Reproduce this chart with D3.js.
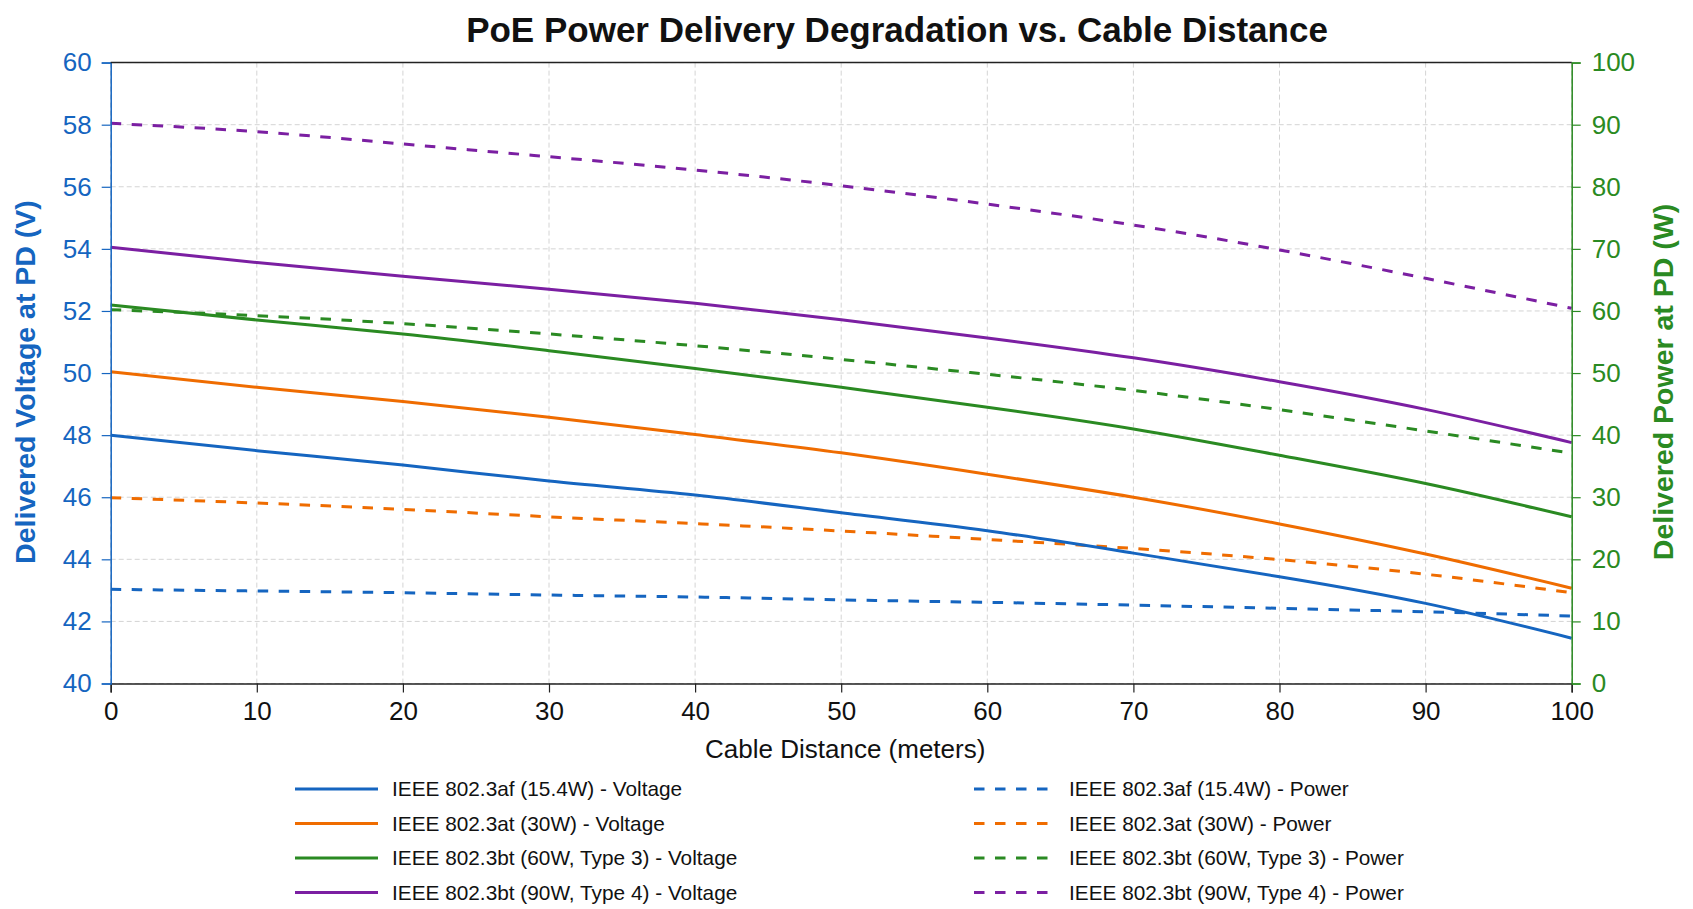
<!DOCTYPE html>
<html>
<head>
<meta charset="utf-8">
<script src="https://cdn.jsdelivr.net/npm/d3@7"></script>
<style>
  body { margin: 0; background: #fff; }
  svg text { font-family: "Liberation Sans", Arial, sans-serif; }
</style>
</head>
<body>
<div id="chart"></div>
<script>
// cable distance in meters
const distances = [0, 10, 20, 30, 40, 50, 60, 70, 80, 90, 100];

// delivered voltage at PD (V)
const voltageAf   = [48.0, 47.5, 47.04, 46.52, 46.07, 45.5, 44.92, 44.2, 43.44, 42.58, 41.46];
const voltageAt   = [50.04, 49.54, 49.08, 48.58, 48.02, 47.43, 46.74, 46.0, 45.14, 44.17, 43.07];
const voltageBt60 = [52.19, 51.71, 51.26, 50.72, 50.15, 49.54, 48.9, 48.2, 47.35, 46.44, 45.37];
const voltageBt90 = [54.05, 53.56, 53.12, 52.7, 52.25, 51.72, 51.13, 50.49, 49.72, 48.83, 47.76];

// delivered power at PD (W)
const powerAf   = [15.17, 14.9, 14.62, 14.25, 13.93, 13.47, 13.07, 12.62, 12.11, 11.55, 10.87];
const powerAt   = [29.93, 29.07, 28.05, 26.85, 25.75, 24.56, 23.2, 21.75, 19.95, 17.6, 14.62];
const powerBt60 = [60.2, 59.25, 57.96, 56.3, 54.4, 52.2, 49.8, 47.2, 44.1, 40.67, 37.08];
const powerBt90 = [90.22, 88.87, 86.89, 84.84, 82.7, 80.17, 77.2, 73.84, 69.82, 65.26, 60.43];

const standards = ["IEEE 802.3af (15.4W)", "IEEE 802.3at (30W)", "IEEE 802.3bt (60W, Type 3)", "IEEE 802.3bt (90W, Type 4)"];
const colors = ["#1565c0", "#ef6c00", "#2a8a22", "#7b1fa2"];

const xTicks = d3.range(0, 101, 10);
const vTicks = d3.range(40, 61, 2);
const pTicks = d3.range(0, 101, 10);

const W = 1693, H = 909;
const margin = {top: 62.6, right: 121.3, bottom: 225.5, left: 110.7};
const width = W - margin.left - margin.right,
      height = H - margin.top - margin.bottom;

const blue = "#1565c0", green = "#2a8a22";
const dash = "10.5,10.5";

const svg = d3.select("#chart")
  .append("svg")
    .attr("width", W)
    .attr("height", H);

const g = svg.append("g")
    .attr("transform", `translate(${margin.left},${margin.top})`);

//scales
const x = d3.scaleLinear().domain([0, 100]).range([0, width]);
const yV = d3.scaleLinear().domain([40, 60]).range([height, 0]);
const yP = d3.scaleLinear().domain([0, 100]).range([height, 0]);

//grid
g.append("g")
  .selectAll("line")
  .data(xTicks)
  .join("line")
    .attr("x1", d => x(d)).attr("x2", d => x(d))
    .attr("y1", 0).attr("y2", height)
    .attr("stroke", "#d4d4d4")
    .attr("stroke-width", 1)
    .attr("stroke-dasharray", "5,3");

g.append("g")
  .selectAll("line")
  .data(vTicks)
  .join("line")
    .attr("x1", 0).attr("x2", width)
    .attr("y1", d => yV(d)).attr("y2", d => yV(d))
    .attr("stroke", "#d4d4d4")
    .attr("stroke-width", 1)
    .attr("stroke-dasharray", "5,3");

//lines
const voltages = [voltageAf, voltageAt, voltageBt60, voltageBt90];
const powers = [powerAf, powerAt, powerBt60, powerBt90];

const lineV = d3.line()
  .curve(d3.curveNatural)
  .x((d, i) => x(distances[i]))
  .y(d => yV(d));

const lineP = d3.line()
  .curve(d3.curveNatural)
  .x((d, i) => x(distances[i]))
  .y(d => yP(d));

g.selectAll(".pline")
  .data(powers)
  .join("path")
    .attr("class", "pline")
    .attr("fill", "none")
    .attr("stroke", (d, i) => colors[i])
    .attr("stroke-width", 3)
    .attr("stroke-dasharray", dash)
    .attr("d", lineP);

g.selectAll(".vline")
  .data(voltages)
  .join("path")
    .attr("class", "vline")
    .attr("fill", "none")
    .attr("stroke", (d, i) => colors[i])
    .attr("stroke-width", 3)
    .attr("d", lineV);

//axes
const xAxis = g.append("g")
  .attr("transform", `translate(0,${height})`)
  .call(d3.axisBottom(x).tickValues(xTicks).tickSize(9).tickPadding(9));
xAxis.select(".domain").attr("stroke", "#222").attr("stroke-width", 1.5);
xAxis.selectAll(".tick line").attr("stroke", "#222").attr("stroke-width", 1.2);
xAxis.selectAll("text").attr("fill", "#111").style("font-size", "26px");

const leftAxis = g.append("g")
  .call(d3.axisLeft(yV).tickValues(vTicks).tickSize(9).tickPadding(10));
leftAxis.select(".domain").attr("stroke", blue).attr("stroke-width", 1.5);
leftAxis.selectAll(".tick line").attr("stroke", blue).attr("stroke-width", 1.2);
leftAxis.selectAll("text").attr("fill", blue).style("font-size", "26px");

const rightAxis = g.append("g")
  .attr("transform", `translate(${width},0)`)
  .call(d3.axisRight(yP).tickValues(pTicks).tickSize(9).tickPadding(11));
rightAxis.select(".domain").attr("stroke", green).attr("stroke-width", 1.5);
rightAxis.selectAll(".tick line").attr("stroke", green).attr("stroke-width", 1.2);
rightAxis.selectAll("text").attr("fill", green).style("font-size", "26px");

// top spine
g.append("line")
  .attr("x1", 0).attr("x2", width)
  .attr("y1", 0).attr("y2", 0)
  .attr("stroke", "#222")
  .attr("stroke-width", 1.5);

//titles
svg.append("text")
  .attr("x", 897)
  .attr("y", 42)
  .attr("text-anchor", "middle")
  .style("font-size", "35px")
  .style("font-weight", "bold")
  .attr("fill", "#111")
  .text("PoE Power Delivery Degradation vs. Cable Distance");

svg.append("text")
  .attr("x", margin.left + width / 2 + 4)
  .attr("y", 758)
  .attr("text-anchor", "middle")
  .style("font-size", "26px")
  .attr("fill", "#111")
  .text("Cable Distance (meters)");

svg.append("text")
  .attr("transform", "translate(35,382) rotate(-90)")
  .attr("text-anchor", "middle")
  .style("font-size", "28.5px")
  .style("font-weight", "bold")
  .attr("fill", blue)
  .text("Delivered Voltage at PD (V)");

svg.append("text")
  .attr("transform", "translate(1673,382) rotate(-90)")
  .attr("text-anchor", "middle")
  .style("font-size", "28.5px")
  .style("font-weight", "bold")
  .attr("fill", green)
  .text("Delivered Power at PD (W)");

//legend
const legendRowY = [789, 823.5, 858, 892.5];
const legendItems = [];
standards.forEach((s, i) => legendItems.push({label: s + " - Voltage", color: colors[i], dashed: false, col: 0, row: i}));
standards.forEach((s, i) => legendItems.push({label: s + " - Power", color: colors[i], dashed: true, col: 1, row: i}));
const colX = [295, 974];

const legend = svg.append("g");
const item = legend.selectAll("g")
  .data(legendItems)
  .join("g")
    .attr("transform", d => `translate(${colX[d.col]},${legendRowY[d.row]})`);

item.append("line")
  .attr("x1", 0).attr("x2", 83)
  .attr("y1", 0).attr("y2", 0)
  .attr("stroke", d => d.color)
  .attr("stroke-width", 3)
  .attr("stroke-dasharray", d => d.dashed ? dash : null);

item.append("text")
  .attr("x", d => d.col === 0 ? 97 : 95)
  .attr("y", 0)
  .attr("dy", "0.35em")
  .style("font-size", "20.8px")
  .attr("fill", "#111")
  .text(d => d.label);
</script>
</body>
</html>
